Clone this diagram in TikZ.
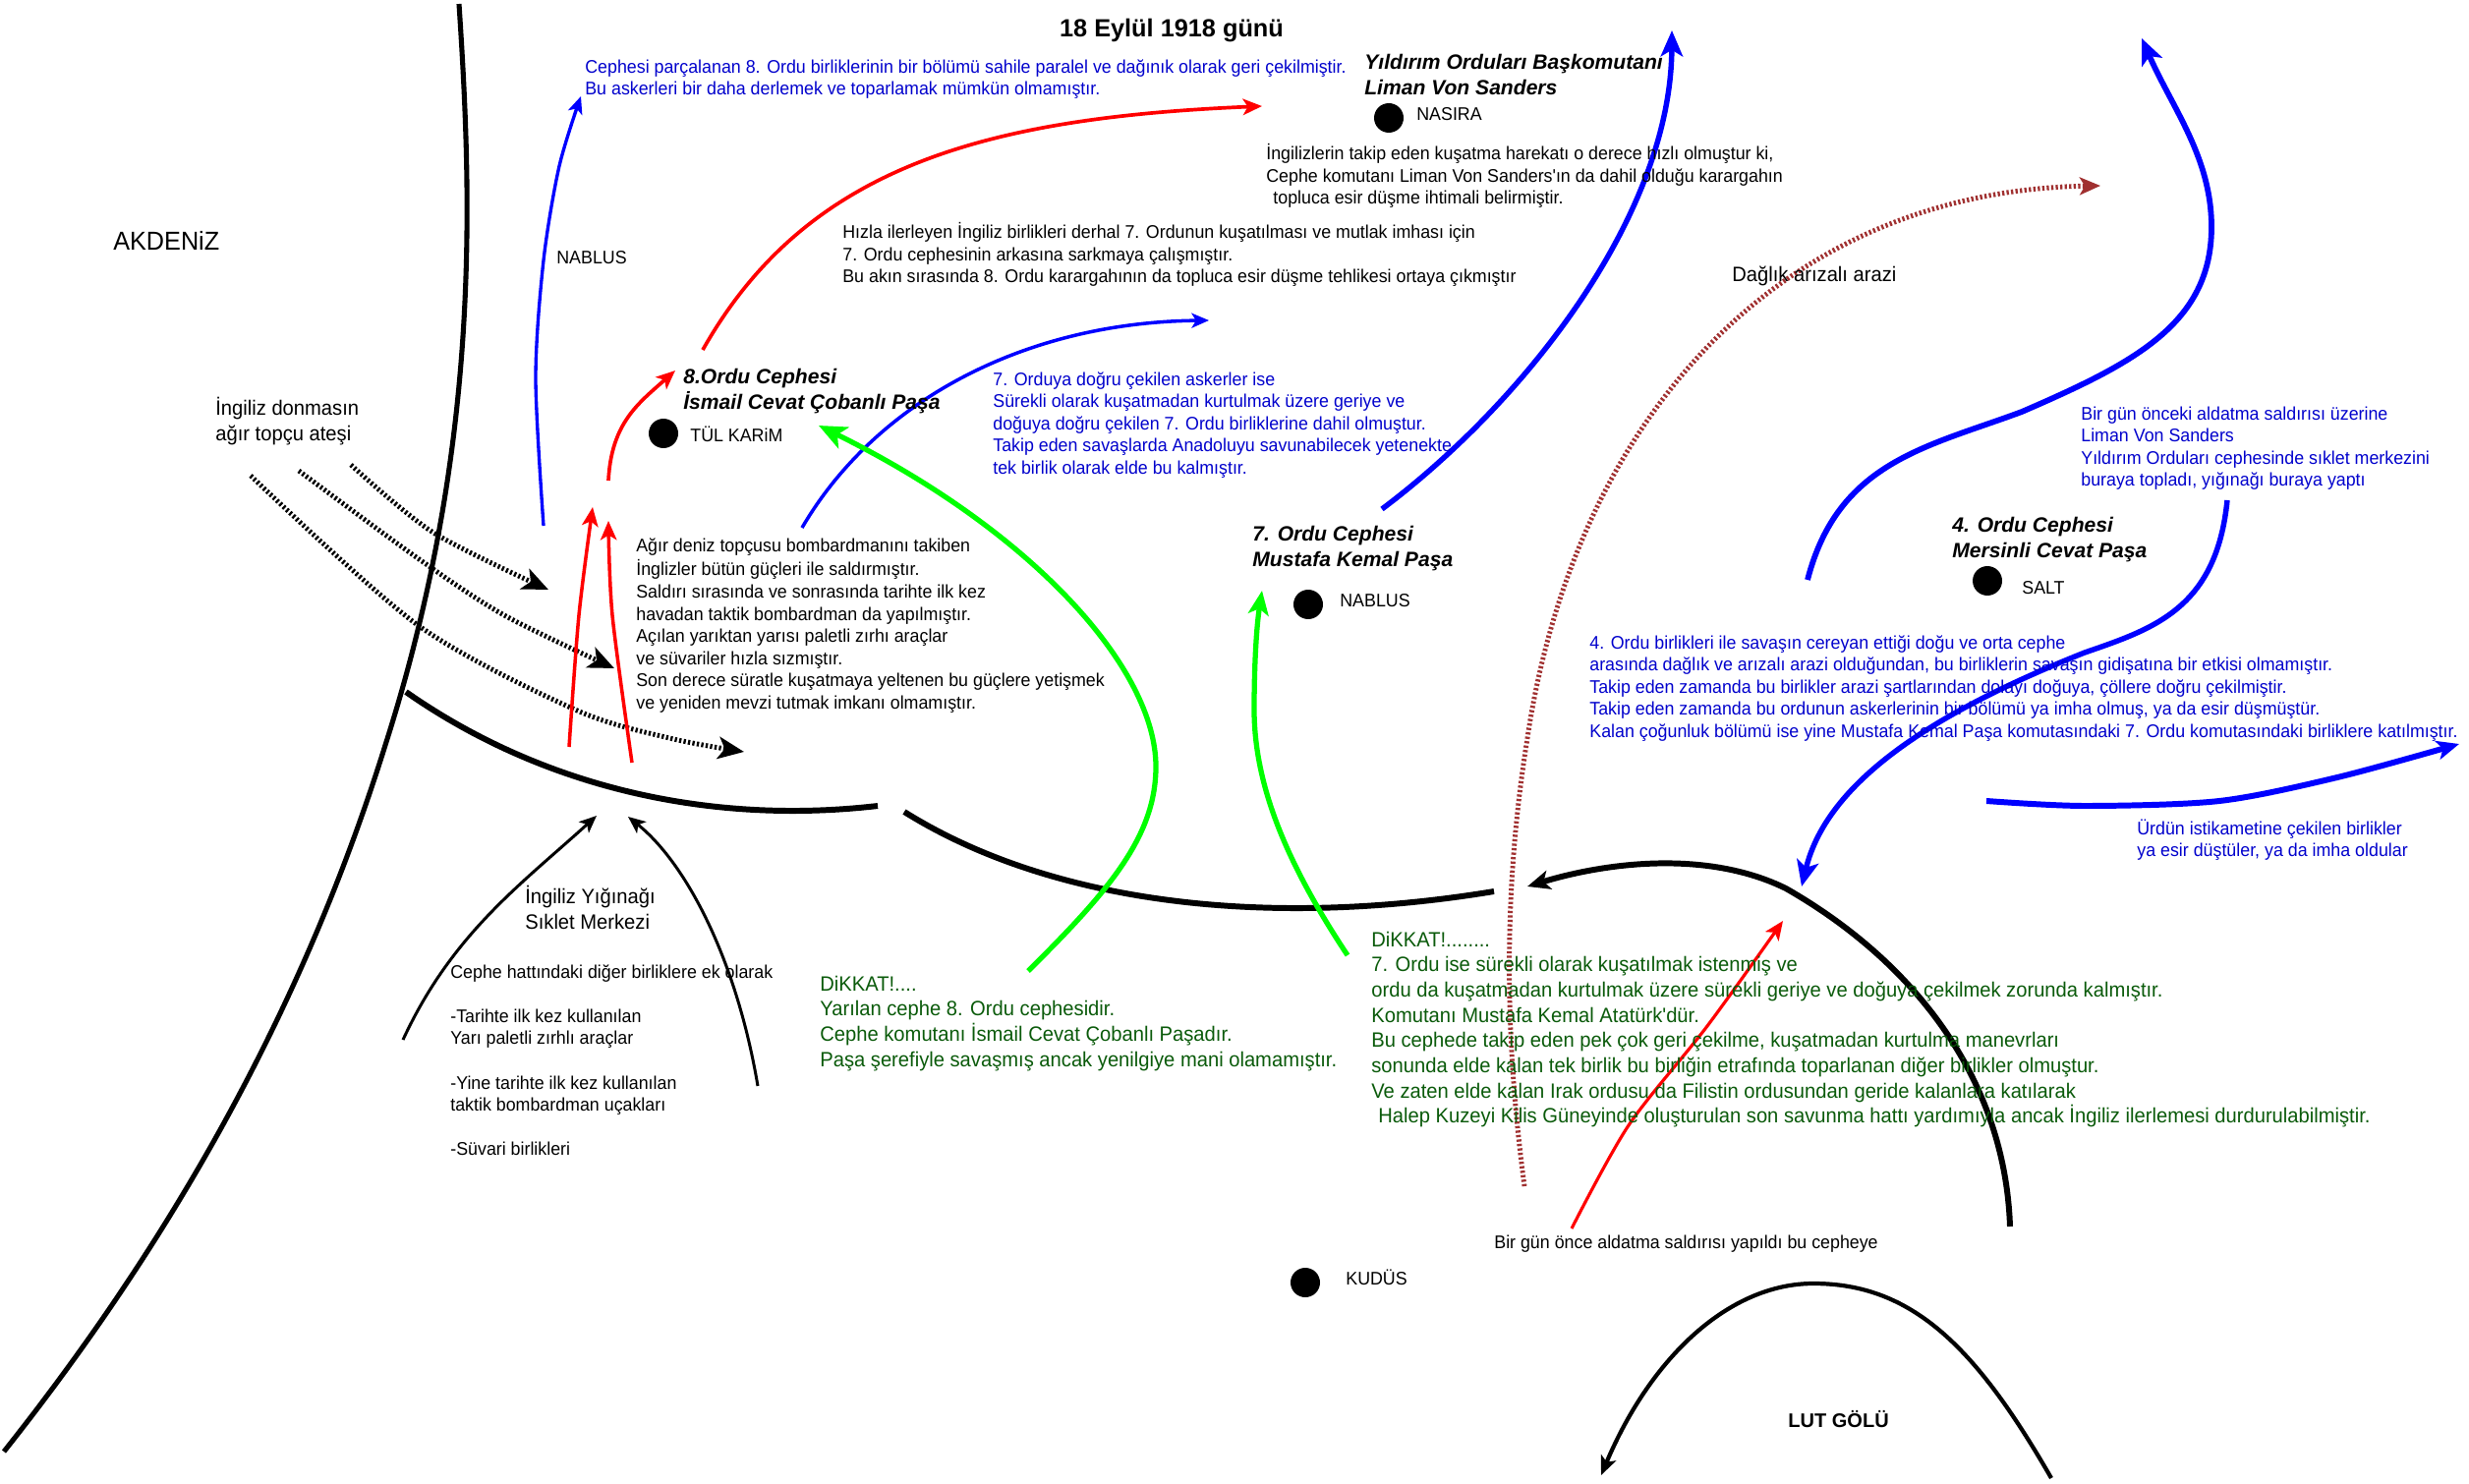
\documentclass[tikz,border=0pt]{standalone}
\usepackage{fontspec}
\setmainfont{Liberation Sans}
\newfontfamily\smf[FakeStretch=0.957]{Liberation Sans}
\newfontfamily\hdf[FakeStretch=1.0]{Liberation Sans}
\usetikzlibrary{arrows.meta}
\definecolor{tblue}{HTML}{0000CC}
\definecolor{tgreen}{HTML}{0A5A0A}
\definecolor{brownd}{HTML}{A03030}
\tikzset{
  x=0.02cm,y=-0.02cm,
  sm/.style={anchor=north west,inner sep=0pt,align=left,font=\smf\fontsize{10.6}{12.86}\selectfont},
  md/.style={anchor=north west,inner sep=0pt,align=left,font=\smf\fontsize{12}{14.6}\selectfont},
  hd/.style={anchor=north west,inner sep=0pt,align=left,font=\hdf\bfseries\itshape\fontsize{12}{14.8}\selectfont},
  blt/.style={sm,text=tblue},
  grt/.style={md,text=tgreen},
  dot/.style={circle,fill=black,inner sep=0pt,minimum size=0.6cm},
  curve/.style={line cap=butt,line join=round},
  ar/.style={curve,-{Stealth[length=#1,width=#1*0.85,inset=#1*0.25]}},
  ar/.default=10pt,
  hatch/.style={dash pattern=on 1.3pt off 1.3pt,line width=2.8pt},
}
\begin{document}
\begin{tikzpicture}
\useasboundingbox (0,0) rectangle (2512,1510);
% coast and fronts
\draw[curve,line width=2.9pt] (467,4) .. controls (480,200) and (490,450) .. (393,755) .. controls (320,990) and (200,1230) .. (4,1477);
\draw[curve,line width=3.4pt] (413,704) .. controls (550,800) and (720,840) .. (893,820);
\draw[curve,line width=3.4pt] (920,826) .. controls (1070,920) and (1290,945) .. (1520,907);
\draw[ar=13pt,line width=3.4pt] (2045,1248) .. controls (2040,1100) and (1950,980) .. (1817,904) .. controls (1740,866) and (1640,876) .. (1554,902);
\draw[ar=11pt,line width=2.4pt] (2087,1504) .. controls (2010,1370) and (1945,1306) .. (1845,1306) .. controls (1760,1306) and (1680,1380) .. (1629,1501);
% thin black arrows
\draw[ar=10pt,line width=1.7pt] (410,1058) .. controls (460,950) and (530,900) .. (607,830);
\draw[ar=10pt,line width=1.7pt] (771,1105) .. controls (750,980) and (700,880) .. (639,831);
% hatched artillery arrows
\draw[ar=15pt,hatch] plot[smooth] coordinates {(357,473) (441,542) (558,600)};
\draw[ar=15pt,hatch] plot[smooth] coordinates {(304,479) (425,568) (513,626) (625,680)};
\draw[ar=15pt,hatch] plot[smooth] coordinates {(255,484) (425,636) (585,722) (681,751) (757,765)};
% brown hatched
\draw[ar=12pt,hatch,brownd] (1551,1207) .. controls (1530,1050) and (1530,900) .. (1554,751) .. controls (1600,440) and (1800,195) .. (2137,189);
% red
\draw[ar=11pt,red,line width=2.1pt] (715,356) .. controls (820,170) and (1000,120) .. (1284,108);
\draw[ar=11pt,red,line width=2.1pt] (619,489) .. controls (622,430) and (650,410) .. (687,377);
\draw[ar=11pt,red,line width=2pt] plot[smooth] coordinates {(579,760) (589,626) (603,516)};
\draw[ar=11pt,red,line width=2pt] plot[smooth] coordinates {(643,776) (623,626) (619,530)};
\draw[ar=11pt,red,line width=1.8pt] plot[smooth] coordinates {(1599,1250) (1657,1145) (1737,1044) (1814,937)};
% blue
\draw[ar=10pt,blue,line width=1.9pt] plot[smooth] coordinates {(553,535) (545,385) (553,265) (569,169) (591,98)};
\draw[ar=10pt,blue,line width=2pt] (816,537) .. controls (890,410) and (1040,328) .. (1230,326);
\draw[ar=15pt,blue,line width=3.1pt] (1406,518) .. controls (1550,410) and (1700,220) .. (1701,31);
\draw[ar=15pt,blue,line width=3.3pt] (1839,590) .. controls (1870,470) and (1960,455) .. (2057,419) .. controls (2170,370) and (2250,330) .. (2250,231) .. controls (2250,160) and (2210,110) .. (2179,39);
\draw[ar=15pt,blue,line width=3.1pt] (2266,509) .. controls (2255,620) and (2190,640) .. (2121,664) .. controls (1980,720) and (1860,790) .. (1833,902);
\draw[ar=13pt,blue,line width=3.4pt] plot[smooth] coordinates {(2021,815) (2121,820) (2258,815) (2378,791) (2502,757)};
% green
\draw[ar=16pt,green,line width=3pt] (1046,988) .. controls (1130,905) and (1176,850) .. (1176,780) .. controls (1176,680) and (1050,540) .. (833,433);
\draw[ar=14pt,green,line width=3pt] (1371,972) .. controls (1310,880) and (1276,800) .. (1276,722) .. controls (1276,680) and (1278,640) .. (1284,601);
% dots
\node[dot] (d1) at (675,441) {};
\node[dot] (d2) at (1413,120) {};
\node[dot] (d3) at (1331,615) {};
\node[dot] (d4) at (2022,591) {};
\node[dot] (d5) at (1328,1305) {};
% texts
\node[anchor=center,inner sep=0pt,font=\bfseries\fontsize{14.4}{16}\selectfont] (title) at (1192,31) {18 Eylül 1918 günü};
\node[blt] (t1) at (595,58) {\strut Cephesi parçalanan 8. Ordu birliklerinin bir bölümü sahile paralel ve dağınık olarak geri çekilmiştir.\\Bu askerleri bir daha derlemek ve toparlamak mümkün olmamıştır.};
\node[sm] (nab1) at (566,252) {\strut NABLUS};
\node[md,font=\smf\fontsize{15}{18}\selectfont] (akd) at (115,232) {\strut AKDENiZ};
\node[md] (tp) at (219,404) {\strut İngiliz donmasın\\ağır topçu ateşi};
\node[sm] (t2) at (857,226) {\strut Hızla ilerleyen İngiliz birlikleri derhal 7. Ordunun kuşatılması ve mutlak imhası için\\7. Ordu cephesinin arkasına sarkmaya çalışmıştır.\\Bu akın sırasında 8. Ordu karargahının da topluca esir düşme tehlikesi ortaya çıkmıştır};
\node[hd] (h8) at (695,372) {\strut 8.Ordu Cephesi\\İsmail Cevat Çobanlı Paşa};
\node[sm] (tk) at (702,433) {\strut TÜL KARiM};
\node[blt] (t3) at (1010,376) {\strut 7. Orduya doğru çekilen askerler ise\\Sürekli olarak kuşatmadan kurtulmak üzere geriye ve\\doğuya doğru çekilen 7. Ordu birliklerine dahil olmuştur.\\Takip eden savaşlarda Anadoluyu savunabilecek yetenekte\\tek birlik olarak elde bu kalmıştır.};
\node[sm] (t4) at (647,545) {\strut Ağır deniz topçusu bombardmanını takiben\\İnglizler bütün güçleri ile saldırmıştır.\\Saldırı sırasında ve sonrasında tarihte ilk kez\\havadan taktik bombardman da yapılmıştır.\\Açılan yarıktan yarısı paletli zırhı araçlar\\ve süvariler hızla sızmıştır.\\Son derece süratle kuşatmaya yeltenen bu güçlere yetişmek\\ve yeniden mevzi tutmak imkanı olmamıştır.};
\node[hd] (hy) at (1388,52) {\strut Yıldırım Orduları Başkomutanı\\Liman Von Sanders};
\node[sm] (nas) at (1441,106) {\strut NASIRA};
\node[sm] (t5) at (1288,146) {\strut İngilizlerin takip eden kuşatma harekatı o derece hızlı olmuştur ki,\\Cephe komutanı Liman Von Sanders'ın da dahil olduğu karargahın\\\hspace*{4pt}topluca esir düşme ihtimali belirmiştir.};
\node[md] (dag) at (1762,268) {\strut Dağlık arızalı arazi};
\node[blt] (t6) at (2117,411) {\strut Bir gün önceki aldatma saldırısı üzerine\\Liman Von Sanders\\Yıldırım Orduları cephesinde sıklet merkezini\\buraya topladı, yığınağı buraya yaptı};
\node[hd] (h4) at (1986,523) {\strut 4. Ordu Cephesi\\Mersinli Cevat Paşa};
\node[sm] (salt) at (2057,588) {\strut SALT};
\node[hd] (h7) at (1274,532) {\strut 7. Ordu Cephesi\\Mustafa Kemal Paşa};
\node[sm] (nab2) at (1363,601) {\strut NABLUS};
\node[blt] (t7) at (1617,644) {\strut 4. Ordu birlikleri ile savaşın cereyan ettiği doğu ve orta cephe\\arasında dağlık ve arızalı arazi olduğundan, bu birliklerin savaşın gidişatına bir etkisi olmamıştır.\\Takip eden zamanda bu birlikler arazi şartlarından dolayı doğuya, çöllere doğru çekilmiştir.\\Takip eden zamanda bu ordunun askerlerinin bir bölümü ya imha olmuş, ya da esir düşmüştür.\\Kalan çoğunluk bölümü ise yine Mustafa Kemal Paşa komutasındaki 7. Ordu komutasındaki birliklere katılmıştır.};
\node[blt] (t8) at (2174,833) {\strut Ürdün istikametine çekilen birlikler\\ya esir düştüler, ya da imha oldular};
\node[md] (yig) at (534,901) {\strut İngiliz Yığınağı\\Sıklet Merkezi};
\node[sm] (t9) at (458,979) {\strut Cephe hattındaki diğer birliklere ek olarak};
\node[sm] (t9b) at (458,1024) {\strut -Tarihte ilk kez kullanılan\\Yarı paletli zırhlı araçlar};
\node[sm] (t9c) at (458,1092) {\strut -Yine tarihte ilk kez kullanılan\\taktik bombardman uçakları};
\node[sm] (t9d) at (458,1159) {\strut -Süvari birlikleri};
\node[grt] (g1) at (834,990) {\strut DiKKAT!....\\Yarılan cephe 8. Ordu cephesidir.\\Cephe komutanı İsmail Cevat Çobanlı Paşadır.\\Paşa şerefiyle savaşmış ancak yenilgiye mani olamamıştır.};
\node[grt] (g2) at (1395,945) {\strut DiKKAT!........\\7. Ordu ise sürekli olarak kuşatılmak istenmiş ve\\ordu da kuşatmadan kurtulmak üzere sürekli geriye ve doğuya çekilmek zorunda kalmıştır.\\Komutanı Mustafa Kemal Atatürk'dür.\\Bu cephede takip eden pek çok geri çekilme, kuşatmadan kurtulma manevrları\\sonunda elde kalan tek birlik bu birliğin etrafında toparlanan diğer birlikler olmuştur.\\Ve zaten elde kalan Irak ordusu da Filistin ordusundan geride kalanlara katılarak\\\hspace*{4pt}Halep Kuzeyi Kilis Güneyinde oluşturulan son savunma hattı yardımıyla ancak İngiliz ilerlemesi durdurulabilmiştir.};
\node[sm] (t10) at (1520,1254) {\strut Bir gün önce aldatma saldırısı yapıldı bu cepheye};
\node[sm] (kud) at (1369,1291) {\strut KUDÜS};
\node[anchor=west,inner sep=0pt,font=\bfseries\fontsize{11.4}{14}\selectfont] (lut) at (1819,1444) {LUT GÖLÜ};
\end{tikzpicture}
\end{document}
